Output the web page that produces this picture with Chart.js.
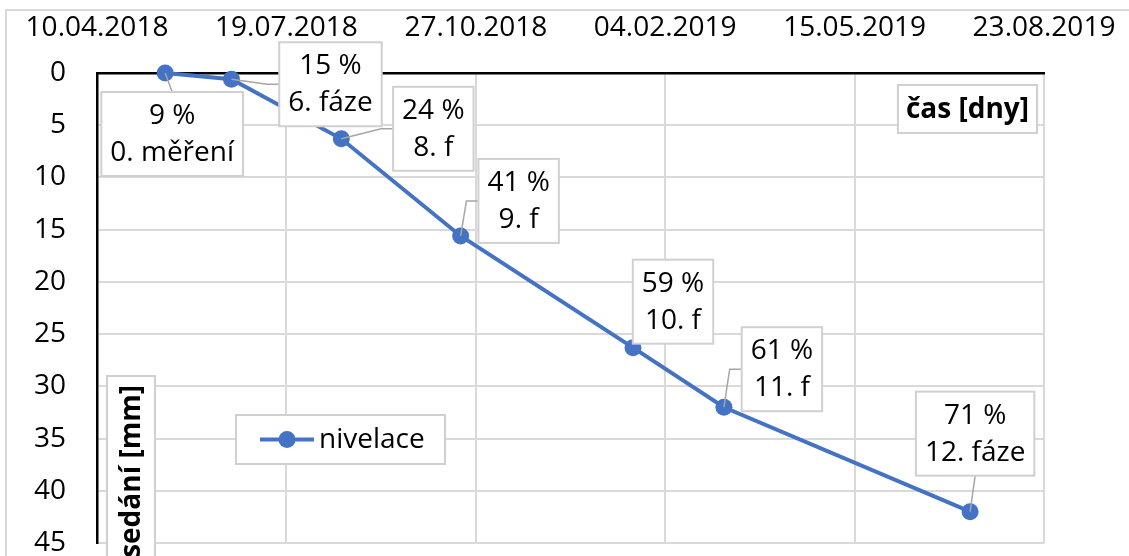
<!DOCTYPE html>
<html>
<head>
<meta charset="utf-8">
<script src="https://cdn.jsdelivr.net/npm/chart.js@4.4.0/dist/chart.umd.min.js"></script>
<style>
  html, body { margin: 0; padding: 0; background: #fff; }
  #wrap { width: 1129px; height: 556px; }
</style>
</head>
<body>
<div id="wrap"><canvas id="chart" width="1129" height="556"></canvas></div>
<script>
// data
const startDate = "2018-04-10";
const measureDates = ["2018-05-16", "2018-06-20", "2018-08-17", "2018-10-19", "2019-01-18", "2019-03-07", "2019-07-15"];
const settlement = [0, 0.6, 6.3, 15.6, 26.3, 32.0, 42.0];
const percentLabels = ["9 %", "15 %", "24 %", "41 %", "59 %", "61 %", "71 %"];
const phaseLabels = ["0. měření", "6. fáze", "8. f", "9. f", "10. f", "11. f", "12. fáze"];
const seriesName = "nivelace";
const xTitle = "čas [dny]";
const yTitle = "sedání [mm]";
const dayRange = [0, 500, 100];   // min, max, step (days from startDate)
const yRange = [0, 45, 5];

const DAY = 86400000;
const t0 = Date.parse(startDate);
const toDay = s => Math.round((Date.parse(s) - t0) / DAY);
const pad2 = n => (n < 10 ? "0" : "") + n;
function fmtDay(d) {
  const dt = new Date(t0 + d * DAY);
  return pad2(dt.getUTCDate()) + "." + pad2(dt.getUTCMonth() + 1) + "." + dt.getUTCFullYear();
}

const blue = "#4472C4";
const gridGrey = "#d9d9d9";
const boxGrey = "#d0d0d0";
const txt = "#000";
const FONT = "'Open Sans', 'Noto Sans', sans-serif";
const FS = 28;

// where each label box sits relative to its point (styling only)
const labelPlacement = [
  { dx: 7, dy: 61, leader: "top" },
  { dx: 99, dy: 5, leader: "side" },
  { dx: 92, dy: -10, leader: "side" },
  { dx: 58, dy: -35, leader: "side" },
  { dx: 40, dy: -46, leader: "none" },
  { dx: 58, dy: -38, leader: "side" },
  { dx: 5, dy: -78, leader: "bottom" },
];

function box(ctx, l, t, w, h) {
  ctx.fillStyle = "#fff";
  ctx.fillRect(l, t, w, h);
  ctx.strokeStyle = boxGrey;
  ctx.lineWidth = 2;
  ctx.strokeRect(l, t, w, h);
}

const frame = {
  id: "frame",
  beforeDraw(chart) {
    const ctx = chart.ctx;
    ctx.save();
    ctx.strokeStyle = gridGrey;
    ctx.lineWidth = 2;
    ctx.strokeRect(6, 10, 1300, 700);
    ctx.restore();
  }
};

const boxLabels = {
  id: "boxLabels",
  afterDatasetsDraw(chart) {
    const ctx = chart.ctx;
    const pts = chart.getDatasetMeta(0).data;
    ctx.save();
    ctx.font = FS + "px " + FONT;
    pts.forEach((p, i) => {
      const pl = labelPlacement[i];
      const lines = [percentLabels[i], phaseLabels[i]];
      const w = Math.max(...lines.map(s => ctx.measureText(s).width)) + 18;
      const h = 84;
      const cx = p.x + pl.dx, cy = p.y + pl.dy;
      const l = cx - w / 2, t = cy - h / 2;
      ctx.strokeStyle = "#a6a6a6";
      ctx.lineWidth = 1.5;
      ctx.beginPath();
      if (pl.leader === "side") {
        ctx.moveTo(p.x, p.y); ctx.lineTo(l - 12, cy); ctx.lineTo(l, cy);
      } else if (pl.leader === "top") {
        ctx.moveTo(p.x, p.y); ctx.lineTo(cx, t);
      } else if (pl.leader === "bottom") {
        ctx.moveTo(p.x, p.y); ctx.lineTo(cx, t + h);
      }
      ctx.stroke();
      box(ctx, l, t, w, h);
      ctx.fillStyle = txt;
      ctx.textAlign = "center";
      ctx.textBaseline = "middle";
      ctx.fillText(lines[0], cx, cy - 18);
      ctx.fillText(lines[1], cx, cy + 19);
    });
    ctx.restore();
  },
  afterDraw(chart) {
    const ctx = chart.ctx;
    const a = chart.chartArea;
    const ds = chart.data.datasets[0];
    ctx.save();
    // x axis title
    ctx.font = "bold " + FS + "px " + FONT;
    const xw = ctx.measureText(xTitle).width + 16;
    box(ctx, a.right - 7 - xw, a.top + 12, xw, 48);
    ctx.fillStyle = txt;
    ctx.textAlign = "center";
    ctx.textBaseline = "middle";
    ctx.fillText(xTitle, a.right - 7 - xw / 2, a.top + 37);
    // y axis title, rotated
    box(ctx, a.left + 10, a.top + 303, 48, 300);
    ctx.save();
    ctx.translate(a.left + 35, a.top + 312);
    ctx.rotate(-Math.PI / 2);
    ctx.textAlign = "right";
    ctx.fillStyle = txt;
    ctx.fillText(yTitle, 0, 0);
    ctx.restore();
    // legend
    const lx = a.left + 139, ly = a.top + 342;
    box(ctx, lx, ly, 209, 49);
    ctx.strokeStyle = ds.borderColor;
    ctx.lineWidth = 4;
    ctx.beginPath();
    ctx.moveTo(lx + 24, ly + 24.5);
    ctx.lineTo(lx + 78, ly + 24.5);
    ctx.stroke();
    ctx.fillStyle = ds.backgroundColor;
    ctx.beginPath();
    ctx.arc(lx + 51, ly + 24.5, 8.5, 0, Math.PI * 2);
    ctx.fill();
    ctx.font = FS + "px " + FONT;
    ctx.fillStyle = txt;
    ctx.textAlign = "left";
    ctx.fillText(ds.label, lx + 83, ly + 25);
    ctx.restore();
  }
};

const tickFont = { family: FONT, size: FS };

new Chart(document.getElementById("chart"), {
  type: "line",
  data: {
    datasets: [{
      label: seriesName,
      data: measureDates.map((d, i) => ({ x: toDay(d), y: settlement[i] })),
      borderColor: blue,
      backgroundColor: blue,
      borderWidth: 4,
      pointRadius: 8.5,
      pointHoverRadius: 8.5,
      pointBorderWidth: 0,
      tension: 0,
      clip: false,
    }]
  },
  options: {
    responsive: false,
    animation: false,
    events: [],
    layout: { padding: { left: 0, top: 0, right: 85, bottom: 13 } },
    plugins: {
      legend: { display: false },
      tooltip: { enabled: false },
    },
    scales: {
      x: {
        type: "linear",
        position: "top",
        min: dayRange[0],
        max: dayRange[1],
        ticks: {
          stepSize: dayRange[2],
          callback: v => fmtDay(v),
          font: tickFont,
          color: txt,
          padding: 28,
          maxRotation: 0,
          autoSkip: false,
        },
        grid: { color: gridGrey, lineWidth: 2, drawTicks: false },
        border: { color: "#000", width: 2.5 },
        afterFit(s) { s.height = 73; s.paddingLeft = 0; s.paddingRight = 0; },
      },
      y: {
        reverse: true,
        min: yRange[0],
        max: yRange[1],
        ticks: {
          stepSize: yRange[2],
          font: tickFont,
          color: txt,
          padding: 31,
        },
        grid: { color: gridGrey, lineWidth: 2, drawTicks: false },
        border: { color: "#000", width: 2.5 },
        afterFit(s) { s.width = 97; s.paddingTop = 0; s.paddingBottom = 0; },
      },
    },
  },
  plugins: [frame, boxLabels],
});
</script>
</body>
</html>
